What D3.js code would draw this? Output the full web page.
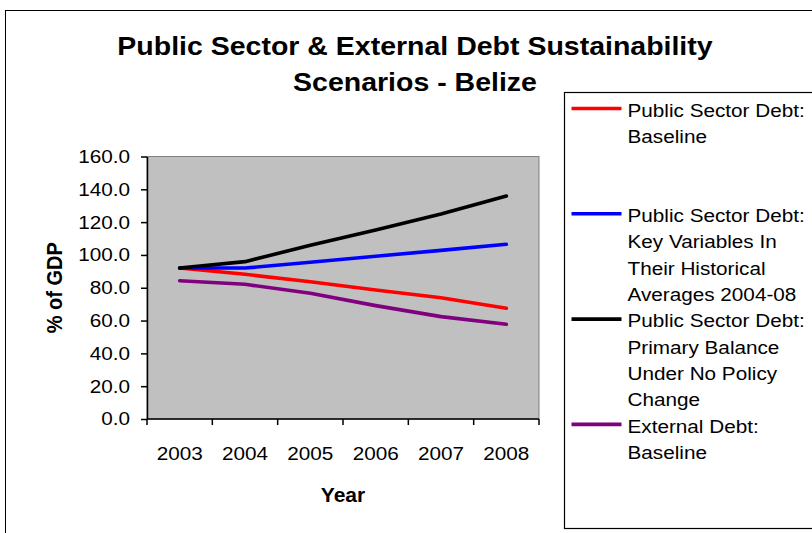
<!DOCTYPE html>
<html>
<head>
<meta charset="utf-8">
<script src="https://cdn.jsdelivr.net/npm/d3@7"></script>
<style>
  html, body { margin: 0; padding: 0; background: #fff; overflow: hidden; }
  text { font-family: "Liberation Sans", Arial, Helvetica, sans-serif; fill: #000; }
</style>
</head>
<body>
<svg id="chart" width="812" height="533"></svg>
<script>
// ---- data ----
const years = ["2003", "2004", "2005", "2006", "2007", "2008"];
const baselineDebt   = [92.0, 88.2, 83.7, 78.6, 73.9, 67.5];
const historicalDebt = [92.0, 92.0, 95.5, 99.2, 102.8, 106.5];
const noPolicyDebt   = [92.0, 95.9, 105.9, 115.2, 125.0, 135.9];
const externalDebt   = [84.3, 82.1, 76.6, 69.1, 62.4, 57.7];
const yTicks = [0, 20, 40, 60, 80, 100, 120, 140, 160];
const seriesColors = ["#FF0000", "#0000FF", "#000000", "#800080"];
const legendLabels = [
  ["Public Sector Debt:", "Baseline"],
  ["Public Sector Debt:", "Key Variables In", "Their Historical", "Averages 2004-08"],
  ["Public Sector Debt:", "Primary Balance", "Under No Policy", "Change"],
  ["External Debt:", "Baseline"]
];
const titleLines = ["Public Sector & External Debt Sustainability", "Scenarios - Belize"];
const xTitle = "Year";
const yTitle = "% of GDP";

const series = [baselineDebt, historicalDebt, noPolicyDebt, externalDebt];

// ---- layout ----
const W = 812, H = 533;
const plot = { left: 147, right: 539, top: 156.5, bottom: 419 };
const k = 1.12; // horizontal widening applied to the lettering
const svg = d3.select("#chart");

// outer chart frame
svg.append("rect")
  .attr("x", 5.5).attr("y", 10.5)
  .attr("width", W + 20).attr("height", H + 20)
  .attr("fill", "#fff").attr("stroke", "#000").attr("stroke-width", 1);

// helper: text widened horizontally around its anchor point
function wideText(parent, x, y, str, opts = {}) {
  const rot = opts.rotate ? ` rotate(${opts.rotate})` : "";
  return parent.append("text")
    .attr("transform", `translate(${x},${y}) scale(${opts.k ?? k},1)${rot}`)
    .attr("text-anchor", opts.anchor || "start")
    .style("font-size", (opts.size || 18.5) + "px")
    .style("font-weight", opts.bold ? "bold" : "normal")
    .text(str);
}

// title
titleLines.forEach((t, i) => {
  wideText(svg, 415, 54.5 + i * 36.5, t, { anchor: "middle", size: 25, bold: true, k: 1.14 });
});

// scales
const x = d3.scaleBand().domain(years).range([plot.left, plot.right]).padding(0);
const y = d3.scaleLinear().domain([0, 160]).range([plot.bottom, plot.top]);

// plot area background
svg.append("rect")
  .attr("x", plot.left).attr("y", plot.top)
  .attr("width", plot.right - plot.left).attr("height", plot.bottom - plot.top)
  .attr("fill", "#C0C0C0").attr("stroke", "#808080").attr("stroke-width", 1);

// y axis
const yAxis = svg.append("g")
  .attr("transform", `translate(${plot.left},0)`)
  .call(d3.axisLeft(y).tickValues(yTicks).tickFormat(d3.format(".1f"))
    .tickSize(6).tickSizeOuter(0).tickPadding(11));
yAxis.select(".domain").attr("stroke", "#000").attr("stroke-width", 1.5);
yAxis.selectAll(".tick line").attr("stroke", "#000").attr("stroke-width", 1.5);
yAxis.selectAll(".tick text")
  .attr("fill", "#000")
  .style("font-size", "18.5px")
  .attr("font-family", null)
  .each(function () {
    const t = d3.select(this);
    t.attr("x", +t.attr("x") / k).attr("transform", `scale(${k},1)`);
  });

// x axis: labels in the middle of each category, ticks on category edges
const xAxis = svg.append("g")
  .attr("transform", `translate(0,${plot.bottom})`)
  .call(d3.axisBottom(x).tickSize(0).tickSizeOuter(0));
xAxis.select(".domain").remove();
xAxis.selectAll(".tick text")
  .attr("fill", "#000")
  .attr("font-family", null)
  .style("font-size", "18.5px")
  .attr("y", 0).attr("dy", 0)
  .attr("transform", `translate(0,41) scale(${k},1)`);
const edges = years.map(d => x(d)).concat([x.range()[1]]);
xAxis.selectAll("line.edge").data(edges).enter().append("line")
  .attr("class", "edge")
  .attr("x1", d => d).attr("x2", d => d)
  .attr("y1", 0).attr("y2", 6)
  .attr("stroke", "#000").attr("stroke-width", 1.5);
xAxis.append("line")
  .attr("x1", plot.left).attr("x2", plot.right)
  .attr("y1", 0).attr("y2", 0)
  .attr("stroke", "#000").attr("stroke-width", 1.5);

// axis titles
wideText(svg, (plot.left + plot.right) / 2, 502, xTitle, { anchor: "middle", size: 19.5, bold: true, k: 1.08 });
wideText(svg, 62, (plot.top + plot.bottom) / 2, yTitle, { anchor: "middle", size: 20, bold: true, rotate: -90 });

// series lines
const line = d3.line()
  .x((d, i) => x(years[i]) + x.bandwidth() / 2)
  .y(d => y(d));
svg.append("g").selectAll("path").data(series).enter().append("path")
  .attr("d", d => line(d))
  .attr("fill", "none")
  .attr("stroke", (d, i) => seriesColors[i])
  .attr("stroke-width", 3.6)
  .attr("stroke-linejoin", "round")
  .attr("stroke-linecap", "round");

// legend
const legend = svg.append("g");
legend.append("rect")
  .attr("x", 564.5).attr("y", 92.5)
  .attr("width", 300).attr("height", 436)
  .attr("fill", "#fff").attr("stroke", "#000").attr("stroke-width", 1.2);
const itemPitch = 105.3, linePitch = 26.3, firstCenter = 110;
legendLabels.forEach((lines, i) => {
  const cy = firstCenter + i * itemPitch;
  legend.append("line")
    .attr("x1", 571.5).attr("x2", 621.5)
    .attr("y1", cy - 1.5).attr("y2", cy - 1.5)
    .attr("stroke", seriesColors[i]).attr("stroke-width", 3.6);
  lines.forEach((s, j) => {
    wideText(legend, 627.5, cy + j * linePitch + 6.6, s, { size: 18.5 });
  });
});
</script>
</body>
</html>
